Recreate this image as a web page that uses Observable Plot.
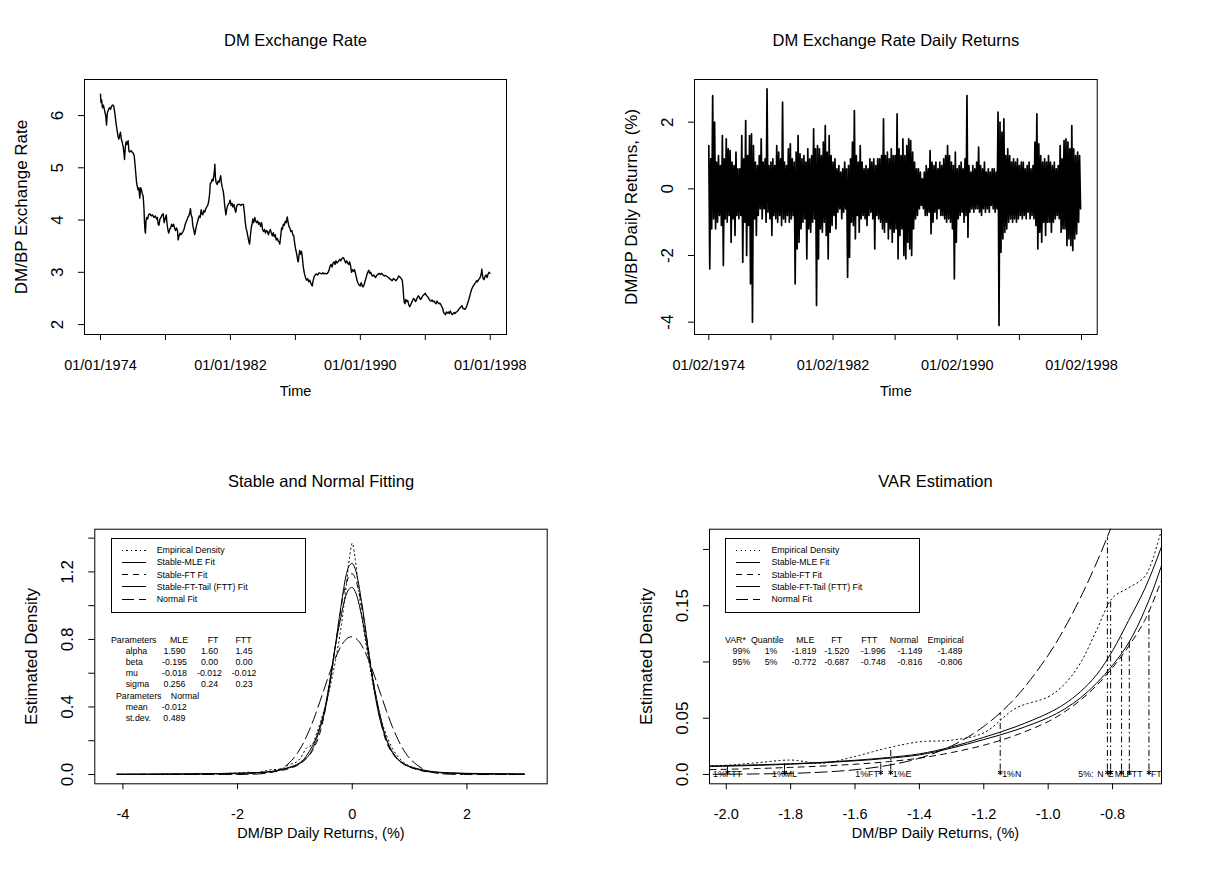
<!DOCTYPE html>
<html><head><meta charset="utf-8">
<script src="https://cdn.jsdelivr.net/npm/d3@7"></script>
<script src="https://cdn.jsdelivr.net/npm/@observablehq/plot@0.6"></script>
<style>
body{margin:0;background:#fff;}
#root{position:relative;width:1228px;height:872px;overflow:hidden;background:#fff;font-family:"Liberation Sans",Arial,Helvetica,sans-serif;color:#000;}
.t{position:absolute;white-space:pre;line-height:1;color:#000;}
.legend{position:absolute;border:1px solid #000;box-sizing:border-box;background:transparent;}
.sample{position:absolute;height:1px;}
</style></head><body><div id="root"></div>
<script>
// ---------------- DATA ----------------
// Top-left: DM/BP exchange rate (decimal year, value)
const rateTime = [1974.00,1974.03,1974.07,1974.12,1974.18,1974.25,1974.32,1974.37,1974.42,1974.48,1974.55,1974.62,1974.68,1974.75,1974.82,1974.88,1974.92,1974.98,
1975.03,1975.08,1975.13,1975.18,1975.23,1975.28,1975.33,1975.40,1975.44,1975.48,1975.53,1975.58,1975.63,1975.70,1975.75,1975.80,1975.88,1975.95,
1976.02,1976.08,1976.13,1976.17,1976.22,1976.26,1976.31,1976.36,1976.42,1976.47,1976.52,1976.58,1976.63,1976.68,1976.71,1976.74,1976.77,1976.80,1976.84,1976.90,1976.96,
1977.04,1977.12,1977.20,1977.29,1977.38,1977.45,1977.50,1977.55,1977.60,1977.66,1977.72,1977.80,1977.86,1977.92,1977.98,
1978.05,1978.10,1978.16,1978.20,1978.26,1978.32,1978.38,1978.44,1978.50,1978.56,1978.62,1978.68,1978.74,1978.78,1978.84,1978.90,1978.96,
1979.02,1979.08,1979.14,1979.20,1979.25,1979.32,1979.38,1979.44,1979.50,1979.54,1979.58,1979.64,1979.68,1979.74,1979.80,1979.85,1979.90,1979.96,
1980.02,1980.08,1980.14,1980.20,1980.25,1980.30,1980.36,1980.42,1980.48,1980.54,1980.60,1980.66,1980.72,1980.76,1980.82,1980.88,1980.93,1980.98,
1981.02,1981.04,1981.08,1981.12,1981.18,1981.25,1981.30,1981.35,1981.40,1981.45,1981.50,1981.56,1981.60,1981.64,1981.68,1981.72,1981.76,1981.80,1981.86,1981.92,1981.98,
1982.04,1982.10,1982.16,1982.22,1982.28,1982.33,1982.40,1982.48,1982.56,1982.64,1982.72,1982.80,1982.86,1982.90,1982.96,
1983.02,1983.08,1983.14,1983.18,1983.23,1983.28,1983.33,1983.38,1983.44,1983.50,1983.56,1983.62,1983.68,1983.74,1983.80,1983.86,1983.92,1983.98,
1984.04,1984.10,1984.16,1984.22,1984.28,1984.34,1984.40,1984.46,1984.52,1984.58,1984.64,1984.70,1984.76,1984.82,1984.88,1984.94,
1985.00,1985.04,1985.10,1985.15,1985.20,1985.26,1985.32,1985.38,1985.44,1985.50,1985.54,1985.60,1985.66,1985.72,1985.78,1985.84,1985.90,1985.96,
1986.01,1986.06,1986.11,1986.15,1986.18,1986.22,1986.27,1986.32,1986.38,1986.43,1986.48,1986.53,1986.58,1986.64,1986.70,1986.76,1986.82,1986.88,1986.94,
1987.00,1987.04,1987.10,1987.16,1987.22,1987.30,1987.38,1987.46,1987.54,1987.62,1987.70,1987.78,1987.86,1987.94,
1988.02,1988.08,1988.14,1988.20,1988.26,1988.32,1988.38,1988.44,1988.50,1988.56,1988.62,1988.68,1988.74,1988.80,1988.86,1988.92,1988.98,
1989.04,1989.10,1989.16,1989.22,1989.28,1989.34,1989.40,1989.46,1989.52,1989.58,1989.64,1989.70,1989.76,1989.82,1989.88,1989.94,
1990.00,1990.05,1990.10,1990.16,1990.22,1990.28,1990.34,1990.40,1990.46,1990.52,1990.58,1990.64,1990.70,1990.76,1990.82,1990.88,1990.94,
1991.00,1991.08,1991.16,1991.24,1991.32,1991.40,1991.48,1991.56,1991.64,1991.72,1991.80,1991.88,1991.96,
1992.04,1992.12,1992.20,1992.28,1992.36,1992.44,1992.52,1992.58,1992.63,1992.67,1992.71,1992.75,1992.80,1992.86,1992.92,1992.98,
1993.04,1993.10,1993.16,1993.22,1993.28,1993.34,1993.40,1993.46,1993.52,1993.58,1993.64,1993.70,1993.76,1993.82,1993.88,1993.94,
1994.00,1994.06,1994.12,1994.18,1994.24,1994.30,1994.36,1994.42,1994.48,1994.54,1994.60,1994.66,1994.72,1994.78,1994.84,1994.90,1994.96,
1995.02,1995.08,1995.12,1995.18,1995.24,1995.30,1995.36,1995.42,1995.48,1995.54,1995.60,1995.66,1995.72,1995.78,1995.84,1995.90,1995.96,
1996.02,1996.08,1996.14,1996.20,1996.26,1996.32,1996.38,1996.44,1996.50,1996.56,1996.62,1996.68,1996.74,1996.80,1996.86,1996.92,1996.98,
1997.04,1997.10,1997.16,1997.22,1997.28,1997.34,1997.40,1997.45,1997.48,1997.52,1997.56,1997.62,1997.68,1997.74,1997.80,1997.86,1997.92,1997.98];
const rateValue = [6.41,6.25,6.30,6.15,6.20,6.10,6.00,5.82,6.05,6.10,6.15,6.12,6.18,6.20,6.18,6.05,5.95,5.80,
5.70,5.60,5.55,5.62,5.68,5.55,5.50,5.40,5.30,5.16,5.40,5.50,5.45,5.52,5.32,5.30,5.33,5.30,
5.28,5.22,5.05,4.90,4.72,4.65,4.58,4.62,4.42,4.62,4.58,4.50,4.45,4.20,3.95,3.80,3.75,3.98,4.05,4.02,4.10,
4.12,4.08,4.10,4.05,4.08,4.02,4.05,3.92,3.90,4.02,4.05,4.10,4.12,3.95,4.02,
4.10,3.92,3.80,3.75,3.82,3.85,3.92,3.88,3.92,3.85,3.80,3.85,3.80,3.62,3.70,3.75,3.72,
3.75,3.78,3.82,3.90,3.95,4.00,4.05,4.08,4.15,4.22,4.10,4.05,3.90,3.82,3.72,3.80,3.88,3.95,
4.02,4.08,4.05,4.20,4.12,4.10,4.18,4.15,4.22,4.25,4.28,4.35,4.50,4.70,4.72,4.78,4.75,4.85,
4.95,5.07,4.80,4.72,4.68,4.75,4.72,4.78,4.85,4.70,4.62,4.55,4.45,4.30,4.20,4.10,4.18,4.25,4.30,4.32,4.38,
4.28,4.32,4.25,4.30,4.20,4.15,4.28,4.30,4.30,4.28,4.30,4.30,4.15,4.00,3.85,
3.78,3.68,3.58,3.54,3.70,3.85,3.92,4.02,3.95,4.05,3.98,3.95,3.98,3.92,3.95,3.88,3.95,3.82,
3.78,3.82,3.75,3.80,3.78,3.72,3.78,3.82,3.75,3.70,3.76,3.68,3.72,3.62,3.65,3.60,
3.58,3.54,3.70,3.85,3.82,3.92,3.90,3.98,3.95,4.06,3.98,3.88,3.85,3.78,3.80,3.72,3.70,3.55,
3.45,3.38,3.30,3.22,3.20,3.32,3.42,3.35,3.40,3.28,3.12,3.02,2.95,2.88,2.85,2.88,2.82,2.85,2.80,
2.76,2.74,2.85,2.92,2.95,2.97,2.95,2.99,2.98,2.97,2.99,2.97,2.98,2.97,
3.00,3.05,3.12,3.15,3.10,3.18,3.20,3.15,3.22,3.18,3.20,3.22,3.25,3.22,3.26,3.28,3.27,
3.22,3.18,3.22,3.18,3.15,3.20,3.12,3.00,3.05,3.02,3.05,2.98,2.90,2.82,2.78,2.75,
2.74,2.80,2.76,2.72,2.75,2.82,2.88,2.95,3.00,3.04,2.98,3.00,2.95,2.93,2.95,2.92,2.90,
2.94,2.96,2.98,2.96,2.98,2.95,2.93,2.94,2.92,2.90,2.88,2.86,2.84,
2.88,2.86,2.84,2.88,2.93,2.91,2.88,2.85,2.70,2.52,2.42,2.40,2.48,2.44,2.46,2.38,
2.34,2.38,2.42,2.46,2.50,2.48,2.44,2.48,2.52,2.55,2.52,2.48,2.50,2.54,2.56,2.58,
2.60,2.56,2.54,2.52,2.48,2.46,2.45,2.47,2.44,2.45,2.42,2.40,2.45,2.42,2.40,2.41,2.38,
2.34,2.30,2.24,2.21,2.19,2.24,2.22,2.24,2.21,2.26,2.22,2.19,2.21,2.23,2.21,2.24,2.25,
2.27,2.30,2.32,2.34,2.36,2.31,2.30,2.29,2.32,2.36,2.42,2.48,2.55,2.62,2.68,2.72,2.75,
2.78,2.80,2.84,2.82,2.86,2.88,2.92,2.98,3.06,2.95,2.88,2.86,2.92,2.95,2.90,2.96,3.00,2.98];

// Top-right: daily returns (%), highest and lowest value in each eighth of a year, 1974-1997
const retStart = 1974;
const retBinsPerYear = 8;
const retHigh = [
1.3,0.9,2.8,2.0,0.8,1.0,0.7,1.6,  0.9,1.5,1.2,1.15,0.8,0.7,1.1,0.6,
0.6,1.6,0.9,2.05,1.0,1.6,1.65,1.3, 0.8,0.7,1.0,1.5,0.8,0.9,3.0,0.7,
0.8,0.9,0.7,1.3,1.1,0.9,2.6,0.8,  0.7,1.2,1.35,0.9,0.8,1.1,1.6,1.05,
0.9,1.0,0.8,1.2,0.9,1.0,1.8,1.2,  1.3,1.2,1.0,1.4,1.9,1.1,1.6,1.0,
0.8,0.9,0.6,0.7,0.5,0.6,0.8,0.6,  0.7,0.9,1.4,2.35,1.0,0.8,1.3,0.8,
0.6,0.7,0.6,0.9,0.8,0.9,0.7,0.9,  0.9,1.0,2.1,1.0,1.1,0.9,1.2,1.0,
1.0,2.25,1.2,1.0,1.5,1.0,1.3,1.5, 1.45,1.1,0.8,0.6,0.6,0.5,0.3,0.5,
0.7,0.6,1.15,0.8,0.7,0.8,0.6,0.8, 0.7,0.9,1.0,1.3,1.0,0.8,0.7,1.1,
0.6,0.7,0.8,0.6,0.9,2.8,0.7,0.5,  0.7,0.6,0.8,1.25,0.7,0.6,0.8,0.5,
0.6,0.5,0.6,0.6,0.5,2.3,2.0,1.7,  2.1,1.0,1.2,1.0,0.8,0.9,0.8,0.9,
0.7,0.8,0.8,0.6,0.7,0.8,0.6,0.7,  1.4,2.25,1.35,1.0,0.8,0.9,0.8,1.0,
0.8,0.7,0.8,0.6,0.7,1.3,0.9,1.45, 1.5,1.4,1.2,1.9,1.2,1.0,1.1,1.0];
const retLow = [
-2.4,-1.2,-0.9,-1.2,-1.0,-0.8,-1.1,-2.3,  -0.9,-1.0,-0.8,-1.6,-0.9,-1.4,-0.8,-0.9,
-0.8,-2.2,-1.0,-2.0,-1.1,-2.85,-4.0,-0.9, -1.4,-0.8,-0.6,-0.9,-0.6,-1.0,-0.7,-0.9,
-1.4,-0.8,-0.9,-1.0,-0.8,-1.1,-0.9,-1.0,  -0.8,-1.0,-0.9,-0.8,-2.85,-1.8,-1.6,-1.2,
-1.0,-0.9,-2.1,-1.2,-1.3,-1.0,-0.9,-3.5,  -2.1,-1.2,-1.3,-1.0,-1.4,-2.1,-1.3,-1.1,
-0.8,-1.2,-0.7,-0.6,-0.9,-0.7,-0.6,-2.65, -2.05,-1.0,-1.1,-1.5,-0.8,-1.3,-0.9,-0.8,
-0.9,-1.1,-0.8,-0.7,-0.9,-1.8,-0.8,-0.9,  -1.0,-1.2,-1.3,-1.0,-1.5,-1.2,-1.6,-1.3,
-1.2,-2.1,-1.4,-1.2,-2.0,-2.1,-1.6,-1.8,  -2.0,-1.2,-0.9,-0.8,-0.6,-0.5,-0.6,-0.8,
-0.8,-0.7,-1.35,-1.0,-0.7,-0.9,-0.6,-0.8, -0.8,-0.9,-1.0,-0.9,-1.0,-1.2,-2.7,-1.6,
-0.9,-0.8,-0.7,-1.0,-0.8,-1.45,-0.7,-0.6, -0.7,-0.6,-0.6,-0.7,-0.8,-0.6,-0.7,-0.6,
-0.7,-0.5,-0.6,-0.7,-0.6,-4.1,-1.9,-1.5,  -1.3,-1.2,-1.0,-0.9,-1.0,-0.9,-1.0,-0.9,
-0.8,-0.9,-0.8,-0.9,-0.7,-0.9,-0.8,-0.9,  -1.1,-1.8,-1.3,-1.6,-1.0,-1.4,-1.0,-1.0,
-1.3,-1.0,-0.9,-0.8,-0.9,-1.3,-1.2,-1.2,  -1.7,-1.5,-1.7,-1.85,-1.5,-1.35,-1.0,-0.6];

// Bottom: densities of daily returns on a common grid
const gridX = [-4.1,-3.5,-3.0,-2.5,-2.1,-2.0,-1.9,-1.8,-1.7,-1.6,-1.5,-1.4,-1.3,-1.2,-1.1,-1.0,
-0.95,-0.9,-0.85,-0.8,-0.75,-0.7,-0.65,-0.6,-0.5,-0.4,-0.3,-0.2,-0.15,-0.1,-0.05,0,0.05,0.1,0.15,0.2,
0.3,0.4,0.5,0.6,0.7,0.8,0.9,1.0,1.25,1.5,2.0,2.5,3.0];
const densEmpirical = [0.001,0.0015,0.002,0.004,0.0075,0.0082,0.0105,0.0128,0.0100,0.016,0.0235,0.029,0.0305,0.037,0.059,0.069,
0.080,0.099,0.128,0.157,0.166,0.176,0.215,0.265,0.37,0.50,0.66,0.86,0.99,1.13,1.28,1.37,1.28,1.13,0.99,0.86,
0.65,0.47,0.33,0.23,0.155,0.105,0.072,0.05,0.022,0.011,0.004,0.002,0.001];
const densMLE = [0.0016,0.0022,0.0033,0.0050,0.0073,0.0079,0.0086,0.0095,0.0108,0.0126,0.0150,0.0183,0.0245,0.0330,0.0425,0.0545,
0.0625,0.0735,0.0885,0.110,0.137,0.165,0.201,0.245,0.36,0.535,0.75,0.93,1.01,1.07,1.10,1.108,1.085,1.035,0.96,0.875,
0.68,0.49,0.33,0.205,0.13,0.087,0.061,0.045,0.022,0.012,0.0055,0.0035,0.0024];
const densFT = [0.0010,0.0014,0.0021,0.0031,0.0041,0.0046,0.0053,0.0063,0.0075,0.0091,0.0113,0.0145,0.0195,0.0260,0.0350,0.0470,
0.0555,0.0660,0.079,0.095,0.114,0.137,0.171,0.207,0.333,0.535,0.75,0.976,1.071,1.136,1.18,1.189,1.164,1.107,1.029,0.922,
0.702,0.488,0.309,0.188,0.126,0.087,0.061,0.044,0.019,0.011,0.0046,0.003,0.0021];
const densFTT = [0.0016,0.0022,0.0031,0.0046,0.0068,0.0073,0.0081,0.0091,0.0104,0.0121,0.0143,0.0174,0.0235,0.0310,0.0395,0.0505,
0.058,0.068,0.081,0.097,0.117,0.146,0.184,0.235,0.345,0.515,0.75,0.99,1.10,1.19,1.238,1.25,1.22,1.15,1.05,0.94,
0.69,0.465,0.305,0.205,0.135,0.09,0.065,0.048,0.026,0.014,0.0072,0.0048,0.0033];
const densNormal = [0,0,0,0,0.0001,0.0002,0.0005,0.001,0.0021,0.0042,0.008,0.0145,0.0254,0.0427,0.0687,0.106,
0.1296,0.157,0.188,0.2229,0.2613,0.3031,0.3481,0.396,0.4958,0.5957,0.686,0.7578,0.784,0.8027,0.8134,0.8156,0.8093,0.7947,0.7722,0.7426,
0.6656,0.572,0.4716,0.3728,0.2827,0.2055,0.1433,0.0959,0.0292,0.0068,0.0002,0,0];

const seriesNames = ["Empirical Density","Stable-MLE Fit","Stable-FT Fit","Stable-FT-Tail (FTT) Fit","Normal Fit"];

// Parameter table (bottom-left)
const paramHeader = ["Parameters","MLE","FT","FTT"];
const paramNames = ["alpha","beta","mu","sigma"];
const paramMLE = ["1.590","-0.195","-0.018","0.256"];
const paramFT = ["1.60","0.00","-0.012","0.24"];
const paramFTT = ["1.45","0.00","-0.012","0.23"];
const normalHeader = ["Parameters","Normal"];
const normalNames = ["mean","st.dev."];
const normalVals = ["-0.012","0.489"];

// VaR table and markers (bottom-right)
const varHeader = ["VAR*","Quantile","MLE","FT","FTT","Normal","Empirical"];
const varRows = [["99%","1%","-1.819","-1.520","-1.996","-1.149","-1.489"],
                 ["95%","5%","-0.772","-0.687","-0.748","-0.816","-0.806"]];
const varQuantile = [-1.996,-1.819,-1.520,-1.489,-1.149,-0.816,-0.806,-0.772,-0.748,-0.687];
const varDensity  = [0.0072,0.0094,0.0108,0.0240,0.0547,0.211,0.156,0.125,0.118,0.145];
const varLabelText = ["1%FTT","1%ML","1%FT","1%E","1%N","5%:","N","E","ML","FTT","FT"];
const varLabelAt   = [-1.996,-1.819,-1.520,-1.489,-1.149,-0.883,-0.838,-0.806,-0.774,-0.732,-0.664];
const varLabelAlign = ["middle","middle","end","start","start","middle","middle","middle","middle","middle","middle"];

// Axis ticks
const tsTicks = [1974,1978,1982,1986,1990,1994,1998];
const tsLabels = [1974,1982,1990,1998];
const rateTicks = [2,3,4,5,6];
const retTicks = [-4,-2,0,2];
const densXTicks = [-4,-2,0,2];
const densYTicks = [0,0.2,0.4,0.6,0.8,1.0,1.2,1.4];
const densYLabels = [0,0.4,0.8,1.2];
const varXTicks = [-2.0,-1.8,-1.6,-1.4,-1.2,-1.0,-0.8];
const varYTicks = [0,0.05,0.1,0.15,0.2];
const varYLabels = [0,0.05,0.15];

// ---------------- DRAWING ----------------
const root = document.getElementById("root");
const FONT = '"Liberation Sans", Arial, Helvetica, sans-serif';
const AX = 14.5, AXV = 17, TTL = 16.5, SMALL = 8.8;

const curveStyle = [
  {strokeDasharray: "1.3,3.2"},
  {},
  {strokeDasharray: "6,5"},
  {},
  {strokeDasharray: "12,5"}
];
const densSeries = [densEmpirical, densMLE, densFT, densFTT, densNormal];

function axesMarks(o) {
  const base = {fill: "#000", textAnchor: "middle", lineAnchor: "middle"};
  return [
    Plot.axisX(o.xTicks, {tickSize: 6, fill: "none", stroke: "#000", label: null}),
    Plot.axisY(o.yTicks, {tickSize: 6, fill: "none", stroke: "#000", label: null}),
    Plot.text(o.xLabels, {...base, x: d => d, frameAnchor: "bottom", dy: 31, text: o.xFmt, fontSize: AX}),
    Plot.text(o.yLabels, {...base, y: d => d, frameAnchor: "left", dx: -27, rotate: -90, text: o.yFmt, fontSize: AXV}),
    Plot.text([o.title], {...base, frameAnchor: "top", dy: o.titleDy, text: d => d, fontSize: TTL}),
    Plot.text([o.xTitle], {...base, frameAnchor: "bottom", dy: o.xTitleDy, text: d => d, fontSize: AX}),
    Plot.text([o.yTitle], {...base, frameAnchor: "left", dx: -63, rotate: -90, text: d => d, fontSize: AXV}),
    Plot.frame({stroke: "#000", strokeWidth: 1})
  ];
}

function panel(o) {
  const svg = Plot.plot({
    width: 614, height: 436,
    marginLeft: o.ml, marginRight: o.mr, marginTop: o.mt, marginBottom: o.mb,
    x: {domain: o.xDomain}, y: {domain: o.yDomain},
    style: {fontFamily: FONT, background: "transparent", overflow: "visible", color: "#000"},
    marks: o.marks
  });
  svg.style.position = "absolute";
  svg.style.left = o.left + "px";
  svg.style.top = o.top + "px";
  root.appendChild(svg);
}

function addText(str, x, y, anchor = "start", size = SMALL) {
  const d = document.createElement("div");
  d.className = "t";
  d.textContent = str;
  d.style.left = x + "px"; d.style.top = y + "px"; d.style.fontSize = size + "px";
  const tx = anchor === "middle" ? "-50%" : anchor === "end" ? "-100%" : "0";
  d.style.transform = `translate(${tx}, -50%)`;
  root.appendChild(d);
}

const sampleBg = [
  "repeating-linear-gradient(to right,#000 0 1.3px,transparent 1.3px 4.5px)",
  "#000",
  "repeating-linear-gradient(to right,#000 0 6px,transparent 6px 11px)",
  "#000",
  "repeating-linear-gradient(to right,#000 0 12px,transparent 12px 17px)"
];
function addLegend(x0, y0) {
  const box = document.createElement("div");
  box.className = "legend";
  Object.assign(box.style, {left: x0 + "px", top: y0 + "px", width: "195px", height: "75px"});
  root.appendChild(box);
  seriesNames.forEach((name, i) => {
    const yy = y0 + 12.5 + 12.2 * i;
    const s = document.createElement("div");
    s.className = "sample";
    Object.assign(s.style, {left: (x0 + 11) + "px", top: (yy - 0.5) + "px", width: "24px", background: sampleBg[i]});
    root.appendChild(s);
    addText(name, x0 + 46, yy);
  });
}

// Top-left: exchange rate
const ratePts = rateTime.map((t, i) => ({t, v: rateValue[i]}));
panel({
  left: 0, top: 0, ml: 84, mr: 108, mt: 79, mb: 102,
  xDomain: [1973.015, 1999.0], yDomain: [1.81, 6.69],
  marks: [
    Plot.line(ratePts, {x: "t", y: "v", stroke: "#000", strokeWidth: 1.4}),
    ...axesMarks({xTicks: tsTicks, xLabels: tsLabels, xFmt: d => "01/01/" + d,
      yTicks: rateTicks, yLabels: rateTicks, yFmt: d => String(d),
      title: "DM Exchange Rate", titleDy: -39, xTitle: "Time", xTitleDy: 57, yTitle: "DM/BP Exchange Rate"})
  ]
});

// Top-right: daily returns
const retPts = [];
retHigh.forEach((h, i) => {
  retPts.push({t: retStart + i / retBinsPerYear, v: h});
  retPts.push({t: retStart + (i + 0.5) / retBinsPerYear, v: retLow[i]});
});
panel({
  left: 614, top: 0, ml: 80, mr: 131.3, mt: 79, mb: 102,
  xDomain: [1973.08, 1999.01], yDomain: [-4.37, 3.28],
  marks: [
    Plot.line(retPts, {x: "t", y: "v", stroke: "#000", strokeWidth: 1.7}),
    ...axesMarks({xTicks: tsTicks, xLabels: tsLabels, xFmt: d => "01/02/" + d,
      yTicks: retTicks, yLabels: retTicks, yFmt: d => String(d),
      title: "DM Exchange Rate Daily Returns", titleDy: -39, xTitle: "Time", xTitleDy: 57, yTitle: "DM/BP Daily Returns, (%)"})
  ]
});

// density curve marks shared by both bottom panels
function densityMarks() {
  return densSeries.map((arr, k) => Plot.line(gridX.map((x, i) => ({x, y: arr[i]})),
    {x: "x", y: "y", stroke: "#000", strokeWidth: 1, curve: "catmull-rom", clip: true, ...curveStyle[k]}));
}

// Bottom-left: stable and normal fitting
panel({
  left: 0, top: 436, ml: 94.3, mr: 67.3, mt: 92.7, mb: 88.7,
  xDomain: [-4.49, 3.40], yDomain: [-0.055, 1.453],
  marks: [
    ...densityMarks(),
    ...axesMarks({xTicks: densXTicks, xLabels: densXTicks, xFmt: d => String(d),
      yTicks: densYTicks, yLabels: densYLabels, yFmt: d => d.toFixed(1),
      title: "Stable and Normal Fitting", titleDy: -47, xTitle: "DM/BP Daily Returns, (%)", xTitleDy: 50, yTitle: "Estimated Density"})
  ]
});

// Bottom-right: VaR estimation
const varPts = varQuantile.map((q, i) => ({q, d: varDensity[i]}));
const varLbl = varLabelText.map((text, i) => ({text, at: varLabelAt[i], align: varLabelAlign[i]}));
panel({
  left: 614, top: 436, ml: 95, mr: 67, mt: 92.7, mb: 88.7,
  xDomain: [-2.052, -0.648], yDomain: [-0.0083, 0.218],
  marks: [
    ...densityMarks(),
    Plot.ruleX(varPts, {x: "q", y1: 0, y2: "d", stroke: "#000", strokeWidth: 1, strokeDasharray: "1.5,3,6,3"}),
    Plot.dot(varPts, {x: "q", y: 0, dy: -2, symbol: "asterisk", r: 2.5, stroke: "#000", strokeWidth: 1}),
    Plot.text(varLbl.filter(d => d.align === "middle"), {x: "at", y: 0, text: "text", textAnchor: "middle", fontSize: SMALL, fill: "#000"}),
    Plot.text(varLbl.filter(d => d.align === "start"), {x: "at", y: 0, dx: 2, text: "text", textAnchor: "start", fontSize: SMALL, fill: "#000"}),
    Plot.text(varLbl.filter(d => d.align === "end"), {x: "at", y: 0, dx: -2, text: "text", textAnchor: "end", fontSize: SMALL, fill: "#000"}),
    ...axesMarks({xTicks: varXTicks, xLabels: varXTicks, xFmt: d => d.toFixed(1),
      yTicks: varYTicks, yLabels: varYLabels, yFmt: d => d === 0 ? "0.0" : String(d),
      title: "VAR Estimation", titleDy: -47, xTitle: "DM/BP Daily Returns, (%)", xTitleDy: 50, yTitle: "Estimated Density"})
  ]
});

// Legends
addLegend(110.7, 537.7);
addLegend(725.4, 537.7);

// Parameter table (bottom-left)
addText(paramHeader[0], 111, 640);
[179, 213, 243.5].forEach((cx, j) => addText(paramHeader[j + 1], cx, 640, "middle"));
paramNames.forEach((n, i) => {
  const y = 651.1 + 11.1 * i;
  addText(n, 125.7, y);
  addText(paramMLE[i], 174.5, y, "middle");
  addText(paramFT[i], 209.5, y, "middle");
  addText(paramFTT[i], 244, y, "middle");
});
addText(normalHeader[0], 116, 695.5);
addText(normalHeader[1], 185, 695.5, "middle");
normalNames.forEach((n, i) => {
  const y = 706.6 + 11.1 * i;
  addText(n, 125.7, y);
  addText(normalVals[i], 174.3, y, "middle");
});

// VaR table (bottom-right)
const varHeadX = [767.3, 805.3, 836.7, 869.3, 904, 945.7];
addText(varHeader[0], 725, 640);
varHeadX.forEach((cx, j) => addText(varHeader[j + 1], cx, 640, "middle"));
const varColX = [741.3, 771, 804, 836.7, 873.3, 910, 950];
varRows.forEach((row, i) => {
  row.forEach((v, j) => addText(v, varColX[j], 651.1 + 11.1 * i, "middle"));
});
</script></body></html>
